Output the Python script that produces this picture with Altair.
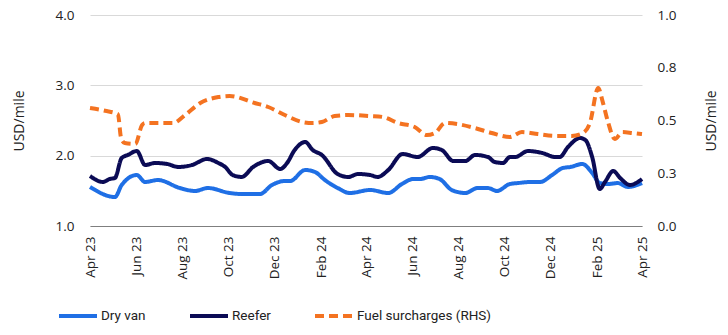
import altair as alt
import pandas as pd

# ---- data ----
series_names = ["Dry van", "Reefer", "Fuel surcharges (RHS)"]
series_colors = ["#1f6fe5", "#0b0b55", "#f47321"]

dry_dates = ["2023-04-01","2023-05-04","2023-05-13","2023-06-02","2023-06-13","2023-06-30","2023-07-29","2023-08-18","2023-09-04","2023-10-03","2023-10-19","2023-11-12","2023-11-28","2023-12-15","2023-12-22","2024-01-11","2024-01-24","2024-02-06","2024-02-23","2024-03-10","2024-04-06","2024-04-30","2024-05-18","2024-06-02","2024-06-11","2024-06-24","2024-07-07","2024-07-23","2024-08-10","2024-08-26","2024-09-09","2024-09-21","2024-10-08","2024-10-19","2024-11-04","2024-11-17","2024-12-03","2024-12-17","2024-12-27","2025-01-12","2025-01-25","2025-02-04","2025-02-15","2025-02-28","2025-03-13","2025-04-01"]
dry_vals = [1.555,1.412,1.583,1.725,1.626,1.654,1.54,1.498,1.54,1.469,1.455,1.455,1.583,1.64,1.64,1.796,1.768,1.654,1.54,1.469,1.512,1.469,1.597,1.668,1.668,1.697,1.668,1.512,1.469,1.54,1.54,1.498,1.597,1.611,1.626,1.626,1.725,1.825,1.839,1.882,1.754,1.611,1.597,1.611,1.555,1.611]

reefer_dates = ["2023-04-01","2023-04-18","2023-04-27","2023-05-04","2023-05-13","2023-05-21","2023-06-02","2023-06-13","2023-06-26","2023-07-12","2023-07-27","2023-08-14","2023-09-03","2023-09-18","2023-09-27","2023-10-07","2023-10-19","2023-11-03","2023-11-23","2023-12-09","2023-12-18","2023-12-28","2024-01-11","2024-01-21","2024-02-02","2024-02-23","2024-03-08","2024-03-21","2024-04-06","2024-04-16","2024-04-30","2024-05-19","2024-06-08","2024-06-28","2024-07-10","2024-07-25","2024-08-10","2024-08-23","2024-09-09","2024-09-18","2024-09-29","2024-10-08","2024-10-15","2024-11-01","2024-11-20","2024-12-07","2024-12-13","2024-12-24","2025-01-09","2025-01-16","2025-01-25","2025-02-04","2025-02-11","2025-02-22","2025-03-03","2025-03-16","2025-04-01"]
reefer_vals = [1.711,1.626,1.668,1.683,1.967,2.01,2.066,1.867,1.896,1.882,1.839,1.867,1.953,1.896,1.839,1.725,1.697,1.839,1.924,1.81,1.896,2.08,2.194,2.08,2.01,1.739,1.697,1.739,1.725,1.697,1.796,2.024,1.981,2.109,2.08,1.924,1.924,2.01,1.981,1.91,1.896,1.981,1.981,2.066,2.038,1.981,1.981,2.123,2.251,2.223,1.981,1.526,1.626,1.782,1.683,1.583,1.668]

fuel_dates = ["2023-04-01","2023-04-21","2023-05-08","2023-05-12","2023-05-17","2023-05-31","2023-06-09","2023-06-13","2023-07-20","2023-08-05","2023-08-25","2023-09-18","2023-10-03","2023-11-05","2023-11-23","2023-12-15","2024-01-07","2024-01-21","2024-02-02","2024-02-19","2024-03-08","2024-04-06","2024-04-22","2024-05-13","2024-06-04","2024-06-20","2024-07-01","2024-07-14","2024-07-31","2024-08-23","2024-09-14","2024-10-08","2024-10-24","2024-11-14","2024-12-07","2024-12-29","2025-01-13","2025-01-22","2025-02-02","2025-02-08","2025-02-15","2025-02-24","2025-03-06","2025-03-19","2025-04-01"]
fuel_vals = [0.559,0.546,0.53,0.42,0.393,0.389,0.479,0.488,0.488,0.526,0.583,0.611,0.616,0.583,0.564,0.526,0.493,0.488,0.493,0.521,0.526,0.521,0.517,0.488,0.469,0.431,0.441,0.488,0.483,0.464,0.441,0.422,0.445,0.436,0.427,0.427,0.441,0.488,0.654,0.588,0.493,0.412,0.445,0.441,0.436]

tick_dates = ["2023-04-01","2023-06-01","2023-08-01","2023-10-01","2023-12-01","2024-02-01","2024-04-01","2024-06-01","2024-08-01","2024-10-01","2024-12-01","2025-02-01","2025-04-01"]
left_ticks = [1.0, 2.0, 3.0, 4.0]
right_ticks = [0.0, 0.25, 0.5, 0.75, 1.0]

# ---- tables ----
left_df = pd.concat([
    pd.DataFrame({"date": dry_dates, "value": dry_vals, "series": series_names[0], "order": 0}),
    pd.DataFrame({"date": reefer_dates, "value": reefer_vals, "series": series_names[1], "order": 1}),
])
fuel_df = pd.DataFrame({"date": fuel_dates, "value": fuel_vals, "series": series_names[2]})


def dt(s):
    y, m, d = (int(p) for p in s.split("-"))
    return alt.DateTime(year=y, month=m, date=d, utc=True)


FONT = "Open Sans"
TXT = "#222222"

x_enc = alt.X(
    "date:T",
    scale=alt.Scale(type="utc", domain=[dt(tick_dates[0]), dt(tick_dates[-1])]),
    axis=alt.Axis(
        values=[dt(s) for s in tick_dates], format="%b %y",
        labelAngle=-90, ticks=False, grid=False, domainColor="#7f7f7f", domainWidth=1,
        labelPadding=10, labelFontSize=13.5, labelColor=TXT, labelFont=FONT, title=None,
    ),
)

legend_props = dict(
    title=None, orient="none", legendX=-33, legendY=280, direction="horizontal",
    symbolType="stroke", symbolSize=1444, symbolStrokeWidth=4,
    labelFont="Roboto", labelFontSize=13.5, labelColor=TXT,
    labelOffset=2, columnPadding=36,
)

color_enc = alt.Color(
    "series:N",
    scale=alt.Scale(domain=series_names, range=series_colors),
    legend=alt.Legend(**legend_props),
)
dash_enc = alt.StrokeDash(
    "series:N",
    scale=alt.Scale(domain=series_names, range=[[1, 0], [1, 0], [9, 5]]),
    legend=alt.Legend(**legend_props),
)

left = alt.Chart(left_df).mark_line(strokeWidth=4, interpolate="monotone").encode(
    x=x_enc,
    y=alt.Y(
        "value:Q",
        scale=alt.Scale(domain=[1, 4], nice=False, zero=False),
        axis=alt.Axis(
            values=left_ticks, format=".1f", title="USD/mile", orient="left",
            ticks=False, domain=False, grid=True, gridColor="#d9d9d9", gridWidth=1,
            labelPadding=16, labelFontSize=13.5, labelColor=TXT, labelFont=FONT,
            titleFont=FONT, titleFontSize=14, titleFontWeight="normal", titleColor=TXT,
            titleX=-71, titleBaseline="middle",
        ),
    ),
    color=color_enc,
    strokeDash=dash_enc,
    order=alt.Order("order:Q"),
)

right = alt.Chart(fuel_df).mark_line(strokeWidth=4, interpolate="monotone").encode(
    x=x_enc,
    y=alt.Y(
        "value:Q",
        scale=alt.Scale(domain=[0, 1], nice=False, zero=False),
        axis=alt.Axis(
            values=right_ticks, format=".1f", title="USD/mile", orient="right",
            ticks=False, domain=False, grid=False,
            labelPadding=15, labelFontSize=13.5, labelColor=TXT, labelFont=FONT,
            titleFont=FONT, titleFontSize=14, titleFontWeight="normal", titleColor=TXT,
            titleAngle=270, titleX=69, titleBaseline="middle",
        ),
    ),
    color=color_enc,
    strokeDash=dash_enc,
)

chart = (
    alt.layer(left, right)
    .resolve_scale(y="independent")
    .properties(
        width=552, height=211,
        autosize=alt.AutoSizeParams(type="none"),
        padding={"left": 90, "top": 15, "right": 86, "bottom": 109},
        background="white",
    )
    .configure_view(stroke=None)
)

chart.save("out.html", embed_options={"renderer": "svg", "actions": False})
